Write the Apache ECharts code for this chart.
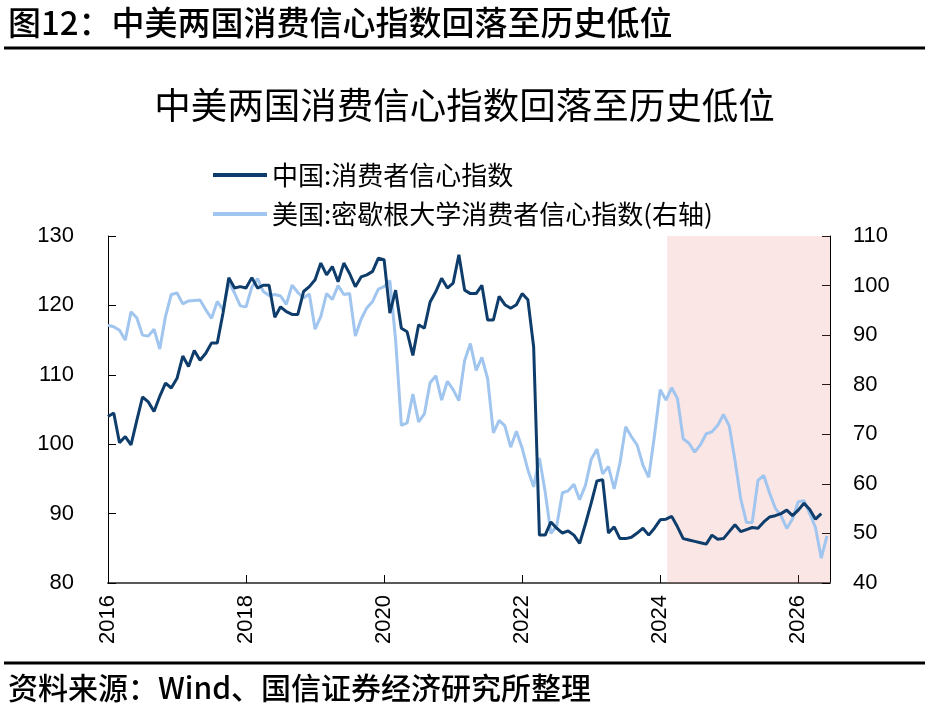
<!DOCTYPE html>
<html>
<head>
<meta charset="UTF-8">
<title>中美两国消费信心指数</title>
<script src="https://cdn.jsdelivr.net/npm/echarts@6/dist/echarts.min.js"></script>
<style>
  html, body { margin: 0; padding: 0; background: #fff; }
  #main { width: 929px; height: 725px; }
</style>
</head>
<body>
<div id="main"></div>
<script>
// 月度数据，从2016年1月开始
var startYear = 2016;
var chinaCCI = [
  104.0, 104.5, 100.2, 101.1, 99.9, 103.4, 106.8, 106.1, 104.7, 106.9, 108.8, 108.1,
  109.5, 112.7, 111.2, 113.5, 112.1, 113.1, 114.6, 114.6, 118.9, 124.0, 122.5, 122.7,
  122.5, 124.0, 122.5, 122.9, 122.9, 118.3, 119.8, 119.1, 118.7, 118.7, 122.0, 122.7,
  123.7, 126.1, 124.4, 125.6, 123.4, 126.1, 124.6, 122.7, 124.1, 124.4, 124.9, 126.8,
  126.6, 118.9, 122.2, 116.7, 116.2, 112.8, 117.2, 116.7, 120.5, 122.0, 123.9, 122.5,
  123.2, 127.3, 122.2, 121.7, 121.7, 122.9, 117.9, 117.9, 121.3, 120.1, 119.6, 120.1,
  121.7, 120.8, 114.0, 86.9, 86.9, 88.8, 87.9, 87.2, 87.5, 86.9, 85.7, 88.5,
  91.5, 94.7, 94.9, 87.2, 88.1, 86.4, 86.4, 86.6, 87.2, 87.9, 86.9, 87.9,
  89.1, 89.2, 89.6, 88.1, 86.4, 86.2, 86.0, 85.8, 85.6, 86.9, 86.3, 86.4,
  87.4, 88.4, 87.4, 87.7, 88.0, 87.9, 88.8, 89.5, 89.7, 90.0, 90.5, 89.7,
  90.5, 91.5, 90.6, 89.2, 90.0
];
var usMichigan = [
  92.0, 91.7, 91.0, 89.0, 94.7, 93.5, 90.0, 89.8, 91.2, 87.2, 93.8, 98.2,
  98.5, 96.3, 96.9, 97.0, 97.1, 95.1, 93.4, 96.8, 95.1, 100.7, 98.5, 95.9,
  95.7, 99.7, 101.4, 98.8, 98.0, 98.2, 97.9, 96.2, 100.1, 98.6, 97.5, 98.3,
  91.2, 93.8, 98.4, 97.2, 100.0, 98.2, 98.4, 89.8, 93.2, 95.5, 96.8, 99.3,
  99.8, 101.0, 89.1, 71.8, 72.3, 78.1, 72.5, 74.1, 80.4, 81.8, 76.9, 80.7,
  79.0, 76.8, 84.9, 88.3, 82.9, 85.5, 81.2, 70.3, 72.8, 71.7, 67.4, 70.6,
  67.2, 62.8, 59.4, 65.2, 58.4, 50.0, 51.5, 58.2, 58.6, 59.9, 56.8, 59.7,
  64.9, 67.0, 62.0, 63.5, 59.0, 64.2, 71.5, 69.5, 67.8, 63.8, 61.3, 69.7,
  79.0, 76.9, 79.4, 77.2, 69.1, 68.2, 66.4, 67.9, 70.1, 70.5, 71.8, 74.0,
  71.7, 64.7, 57.0, 52.2, 52.2, 60.7, 61.7, 58.2, 55.1, 53.6, 51.0, 52.9,
  56.4, 56.6, 54.0, 51.2, 45.0, 49.5
];
var seriesNames = ['中国:消费者信心指数', '美国:密歇根大学消费者信心指数(右轴)'];
var leftTicks = [80, 130, 10];
var rightTicks = [40, 110, 10];
var xRange = [2016, 2026.46];
var shadeRange = [2024.1, 2026.46];

function toPoints(arr) {
  var out = [];
  for (var i = 0; i < arr.length; i++) {
    out.push([startYear + i / 12, arr[i]]);
  }
  return out;
}

var labelFont = 'Liberation Sans, Arial, sans-serif';
var cjkFont = 'Noto Sans CJK SC, sans-serif';

var myChart = echarts.init(document.getElementById('main'));
var option = {
  backgroundColor: '#fff',
  animation: false,
  title: {
    text: '中美两国消费信心指数回落至历史低位',
    left: 'center',
    top: 82,
    textStyle: { fontFamily: cjkFont, fontSize: 36.5, fontWeight: 'normal', color: '#000' }
  },
  legend: {
    data: seriesNames,
    orient: 'vertical',
    left: 208,
    top: 157,
    itemWidth: 54,
    itemHeight: 4,
    itemGap: 13,
    icon: 'rect',
    textStyle: { fontFamily: cjkFont, fontSize: 26, color: '#000' }
  },
  grid: { left: 108, right: 99, top: 236, bottom: 142 },
  xAxis: {
    type: 'value',
    min: xRange[0],
    max: xRange[1],
    interval: 2,
    splitLine: { show: false },
    axisLine: { lineStyle: { color: '#595959', width: 2 } },
    axisTick: { inside: true, length: 8, lineStyle: { color: '#000' } },
    axisLabel: {
      rotate: 90,
      margin: 12,
      showMaxLabel: false,
      fontFamily: labelFont,
      fontSize: 22,
      color: '#000',
      formatter: function (v) { return Math.abs(v - Math.round(v)) < 1e-6 ? String(Math.round(v)) : ''; }
    }
  },
  yAxis: [{
    type: 'value',
    min: leftTicks[0],
    max: leftTicks[1],
    interval: leftTicks[2],
    splitLine: { show: false },
    axisLine: { show: true, lineStyle: { color: '#000', width: 1 } },
    axisTick: { show: true, inside: true, length: 8, lineStyle: { color: '#000' } },
    axisLabel: { margin: 34, fontFamily: labelFont, fontSize: 22, color: '#000' }
  }, {
    type: 'value',
    min: rightTicks[0],
    max: rightTicks[1],
    interval: rightTicks[2],
    splitLine: { show: false },
    axisLine: { show: true, lineStyle: { color: '#000', width: 1 } },
    axisTick: { show: true, inside: true, length: 8, lineStyle: { color: '#000' } },
    axisLabel: { margin: 23, fontFamily: labelFont, fontSize: 22, color: '#000' }
  }],
  series: [{
    name: seriesNames[0],
    type: 'line',
    yAxisIndex: 0,
    showSymbol: false,
    data: toPoints(chinaCCI),
    lineStyle: { color: '#0f3d6b', width: 3 },
    itemStyle: { color: '#0f3d6b' },
    z: 3
  }, {
    name: seriesNames[1],
    type: 'line',
    yAxisIndex: 1,
    showSymbol: false,
    data: toPoints(usMichigan),
    lineStyle: { color: '#a0c5ee', width: 3 },
    itemStyle: { color: '#a0c5ee' },
    z: 2
  }, {
    // 阴影区域，盖在线条上面
    name: 'shade',
    type: 'line',
    data: [],
    silent: true,
    z: 5,
    markArea: {
      silent: true,
      itemStyle: { color: 'rgba(232, 120, 120, 0.19)' },
      data: [[{ xAxis: shadeRange[0] }, { xAxis: shadeRange[1] }]]
    }
  }],
  graphic: [{
    type: 'text',
    left: 8,
    top: 6,
    style: { text: '图12：中美两国消费信心指数回落至历史低位', font: '500 33px ' + cjkFont, fill: '#000' }
  }, {
    type: 'line',
    shape: { x1: 4, y1: 48, x2: 925, y2: 48 },
    style: { stroke: '#000', lineWidth: 3 }
  }, {
    type: 'line',
    shape: { x1: 4, y1: 663, x2: 925, y2: 663 },
    style: { stroke: '#000', lineWidth: 3 }
  }, {
    type: 'text',
    left: 8,
    top: 673,
    style: { text: '资料来源：Wind、国信证券经济研究所整理', font: '500 30px ' + cjkFont, fill: '#000' }
  }]
};
myChart.setOption(option);
</script>
</body>
</html>
